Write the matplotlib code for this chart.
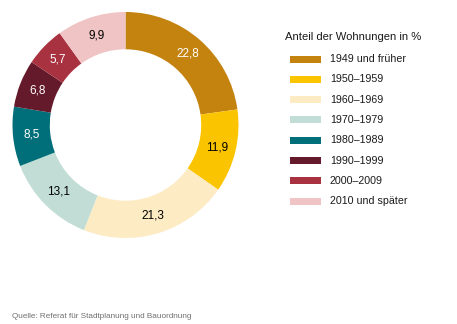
import matplotlib
matplotlib.use("Agg")
import matplotlib.pyplot as plt
from matplotlib.patches import Rectangle

plt.rcParams['font.family'] = ['Liberation Sans', 'DejaVu Sans']

categories = ["1949 und früher", "1950–1959", "1960–1969", "1970–1979",
              "1980–1989", "1990–1999", "2000–2009", "2010 und später"]
values = [22.8, 11.9, 21.3, 13.1, 8.5, 6.8, 5.7, 9.9]
value_labels = ["22,8", "11,9", "21,3", "13,1", "8,5", "6,8", "5,7", "9,9"]
colors = ["#C4830F", "#FBC400", "#FDEBC4", "#C1DDD5",
          "#006F7A", "#641A2A", "#A83240", "#F0C4C4"]
text_colors = ["white", "black", "black", "black", "white", "white", "white", "black"]

W, H = 457, 324
fig = plt.figure(figsize=(W / 100, H / 100), dpi=100)

cx, cy, r = 125.5, 125, 113
ax = fig.add_axes([(cx - r) / W, (H - cy - r) / H, 2 * r / W, 2 * r / H])
wedges, texts = ax.pie(values, colors=colors, startangle=90, counterclock=False,
                       radius=1, wedgeprops=dict(width=0.33, linewidth=0),
                       labels=value_labels, labeldistance=0.835,
                       textprops=dict(fontsize=8.5, ha='center', va='center'))
for t, c in zip(texts, text_colors):
    t.set_color(c)
    t.set_ha('center')
ax.set_xlim(-1, 1)
ax.set_ylim(-1, 1)
ax.set_aspect('equal')
ax.axis('off')

# Legend
fig.text(285 / W, 1 - 37 / H, "Anteil der Wohnungen in %", fontsize=8.1,
         ha='left', va='center', color='#1a1a1a')
y0, dy = 59, 20.3
for i, (lab, col) in enumerate(zip(categories, colors)):
    y = y0 + i * dy
    fig.patches.append(Rectangle((290 / W, 1 - (y + 3.5) / H), 31 / W, 7 / H,
                                 transform=fig.transFigure, facecolor=col,
                                 edgecolor='none'))
    fig.text(330 / W, 1 - y / H, lab, fontsize=7.7, ha='left', va='center',
             color='#1a1a1a')

fig.text(12 / W, 1 - 316 / H, "Quelle: Referat für Stadtplanung und Bauordnung",
         fontsize=5.9, ha='left', va='center', color='#707070')

fig.savefig("out.png", dpi=100)
